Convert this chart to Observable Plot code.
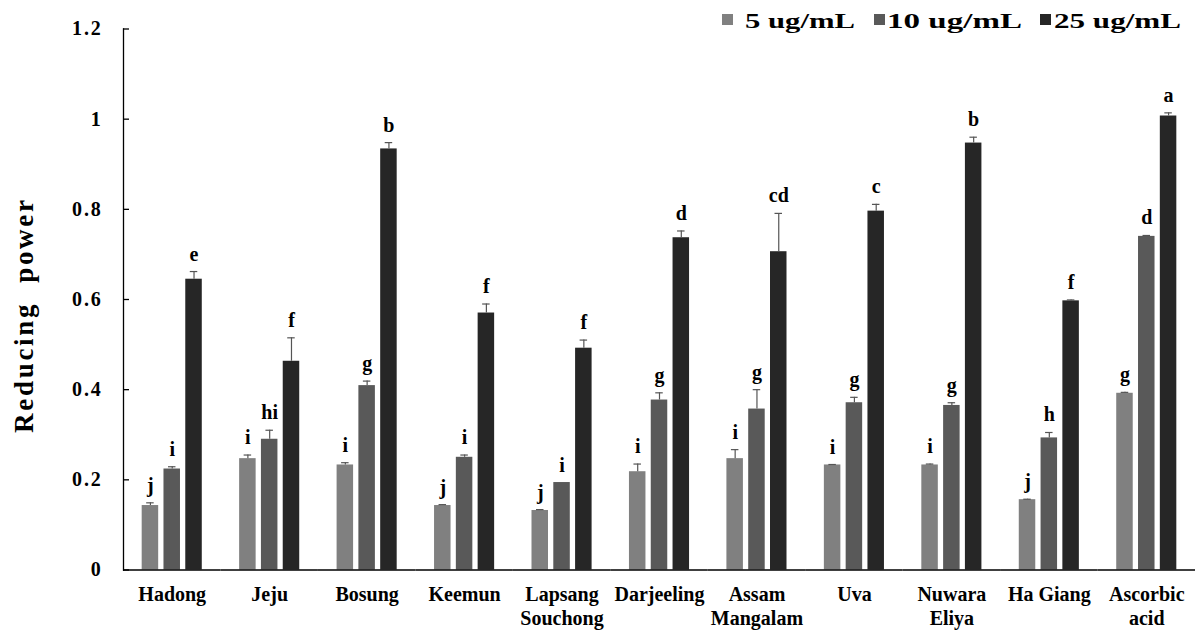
<!DOCTYPE html>
<html>
<head>
<meta charset="utf-8">
<script src="https://cdn.jsdelivr.net/npm/d3@7"></script>
<script src="https://cdn.jsdelivr.net/npm/@observablehq/plot@0.6"></script>
<style>
  html, body { margin: 0; padding: 0; background: #fff; }
  #wrap { position: relative; width: 1198px; height: 630px; }
  #wrap svg.overlay { position: absolute; left: 0; top: 0; pointer-events: none; }
  #wrap g[aria-label="y-axis tick label"] text { font-size: 20px !important; font-weight: bold; letter-spacing: 1.8px; }
</style>
</head>
<body>
<div id="wrap"></div>
<script>
// ---- data ----
const categories = ["Hadong", "Jeju", "Bosung", "Keemun", "Lapsang\nSouchong", "Darjeeling",
  "Assam\nMangalam", "Uva", "Nuwara\nEliya", "Ha Giang", "Ascorbic\nacid"];
const series = ["5 ug/mL", "10 ug/mL", "25 ug/mL"];
const colors = ["#808080", "#595959", "#262626"];

const v5  = [0.143, 0.247, 0.233, 0.143, 0.132, 0.218, 0.247, 0.233, 0.233, 0.156, 0.392];
const e5  = [0.006, 0.008, 0.005, 0.002, 0.002, 0.017, 0.020, 0.001, 0.002, 0.001, 0.002];
const l5  = ["j", "i", "i", "j", "j", "i", "i", "i", "i", "j", "g"];

const v10 = [0.224, 0.290, 0.409, 0.250, 0.194, 0.377, 0.357, 0.371, 0.365, 0.293, 0.740];
const e10 = [0.005, 0.020, 0.010, 0.005, 0.000, 0.016, 0.043, 0.012, 0.006, 0.012, 0.002];
const l10 = ["i", "hi", "g", "i", "i", "g", "g", "g", "g", "h", "d"];

const v25 = [0.645, 0.463, 0.934, 0.570, 0.492, 0.737, 0.706, 0.796, 0.947, 0.597, 1.007];
const e25 = [0.017, 0.052, 0.014, 0.020, 0.018, 0.015, 0.085, 0.015, 0.013, 0.002, 0.007];
const l25 = ["e", "f", "b", "f", "f", "d", "cd", "c", "b", "f", "a"];

const yTicks = [0, 0.2, 0.4, 0.6, 0.8, 1, 1.2];
const yTitle = "Reducing  power";

// ---- table ----
const values = [v5, v10, v25], errors = [e5, e10, e25], letters = [l5, l10, l25];
const rows = [];
categories.forEach((c, i) => series.forEach((s, j) => {
  rows.push({cat: c, series: s, value: values[j][i], err: errors[j][i], label: letters[j][i]});
}));
const errTop = d => d.value + d.err;
const FONT = "'Liberation Serif', 'Times New Roman', serif";

const chart = Plot.plot({
  width: 1198,
  height: 630,
  marginTop: 28.5,
  marginBottom: 60.5,
  marginLeft: 123,
  marginRight: 3,
  style: {fontFamily: FONT, color: "#000", background: "#fff", overflow: "visible"},
  fx: {domain: categories, padding: 0, round: false, label: null},
  x: {domain: series, paddingInner: 0.243, paddingOuter: 0.857, round: false, axis: null},
  y: {domain: [0, 1.2], label: null},
  color: {domain: series, range: colors},
  marks: [
    Plot.barY(rows, {fx: "cat", x: "series", y: "value", fill: "series"}),
    Plot.ruleX(rows, {fx: "cat", x: "series", y1: "value", y2: errTop, stroke: "#555", strokeWidth: 1.2}),
    Plot.tickY(rows.filter(d => d.err > 0), {fx: "cat", x: "series", y: errTop, stroke: "#555", strokeWidth: 1.2, insetLeft: 4.5, insetRight: 4.5}),
    Plot.text(rows, {fx: "cat", x: "series", y: errTop, text: "label", dy: -11, lineAnchor: "bottom",
      fontSize: 20, fontWeight: "bold", fontFamily: FONT, fill: "#000"}),
    Plot.ruleY([0], {stroke: "#000", strokeWidth: 1.3}),
    Plot.frame({anchor: "left", facetAnchor: "left", stroke: "#000", strokeWidth: 1.3}),
    Plot.axisY({ticks: yTicks, tickFormat: d => String(+d.toFixed(1)), tickSize: -6, tickPadding: 27,
      fontSize: 20, fontWeight: "bold", label: null, stroke: "#000", strokeWidth: 1.3}),
    Plot.axisFx({anchor: "bottom", tickSize: 0, tickPadding: 14, fontSize: 20, fontWeight: "bold",
      lineHeight: 1.2, label: null})
  ]
});
const wrap = document.getElementById("wrap");
wrap.appendChild(chart);

// ---- overlay: legend and y title ----
const NS = "http://www.w3.org/2000/svg";
const ov = document.createElementNS(NS, "svg");
ov.setAttribute("class", "overlay");
ov.setAttribute("width", 1198);
ov.setAttribute("height", 630);
ov.style.fontFamily = FONT;
const swX = [722, 874, 1040], txX = [745, 887, 1054], txW = [110, 135, 127];
series.forEach((s, j) => {
  const r = document.createElementNS(NS, "rect");
  r.setAttribute("x", swX[j]); r.setAttribute("y", 14);
  r.setAttribute("width", 11); r.setAttribute("height", 11);
  r.setAttribute("fill", colors[j]);
  ov.appendChild(r);
  const t = document.createElementNS(NS, "text");
  t.setAttribute("x", txX[j]); t.setAttribute("y", 28);
  t.setAttribute("font-size", 22); t.setAttribute("font-weight", "bold");
  t.setAttribute("textLength", txW[j]); t.setAttribute("lengthAdjust", "spacingAndGlyphs");
  t.textContent = s;
  ov.appendChild(t);
});
const yt = document.createElementNS(NS, "text");
yt.setAttribute("transform", "translate(33,316.5) rotate(-90)");
yt.setAttribute("text-anchor", "middle");
yt.setAttribute("font-size", 27); yt.setAttribute("font-weight", "bold");
yt.setAttribute("textLength", 233); yt.setAttribute("lengthAdjust", "spacing");
yt.style.whiteSpace = "pre";
yt.textContent = yTitle;
ov.appendChild(yt);
wrap.appendChild(ov);
</script>
</body>
</html>
